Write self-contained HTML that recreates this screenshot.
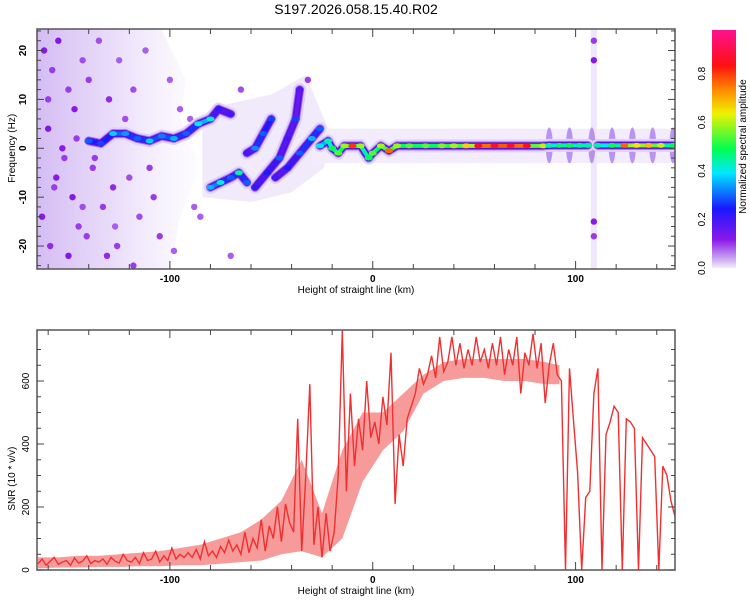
<!DOCTYPE html>
<html><head><meta charset="utf-8">
<style>
html,body{margin:0;padding:0;background:#fff;}
svg{display:block;font-family:"Liberation Sans",sans-serif;}
</style></head>
<body>
<svg id="chart" width="750" height="600" viewBox="0 0 750 600" xmlns="http://www.w3.org/2000/svg">
<text x="356" y="14" font-size="14" text-anchor="middle" fill="#000">S197.2026.058.15.40.R02</text>
<defs>
<clipPath id="clipTop"><rect x="37" y="29" width="638" height="240"/></clipPath>
<clipPath id="clipBot"><rect x="37" y="330" width="638" height="240"/></clipPath>
<linearGradient id="cbar" x1="0" y1="1" x2="0" y2="0">
<stop offset="0" stop-color="#f4eefc"/><stop offset="0.04" stop-color="#c8a4f2"/>
<stop offset="0.12" stop-color="#8a18e8"/><stop offset="0.25" stop-color="#1818ff"/>
<stop offset="0.4" stop-color="#00e8ff"/><stop offset="0.5" stop-color="#00ff50"/>
<stop offset="0.65" stop-color="#f0f000"/><stop offset="0.75" stop-color="#ff8800"/>
<stop offset="0.85" stop-color="#ff1010"/><stop offset="1" stop-color="#ff1090"/>
</linearGradient>
<linearGradient id="hazeGrad" x1="0" y1="0" x2="1" y2="0">
<stop offset="0" stop-color="#cfb4f2" stop-opacity="0.9"/>
<stop offset="0.45" stop-color="#dcc8f6" stop-opacity="0.65"/>
<stop offset="1" stop-color="#ece2fb" stop-opacity="0.1"/>
</linearGradient>
</defs>
<g id="topPlot"></g>
<g id="botPlot"></g>
<g id="colorbar">
<rect x="712" y="30" width="24" height="238" fill="url(#cbar)"/>
</g>
</svg>
<script>
// ---- spectrogram data ----
const ridgeKm  = [-140,-134,-128,-122,-116,-110,-104,-98,-92,-86,-80,-76,-70,
                  -80,-75,-70,-66,-62,
                  -62,-58,-54,-50,
                  -58,-52,-46,-42,-38,-36,
                  -48,-42,-36,-30,-26,
                  -26,-22,-20,-17,-14,-10,-6,-2,0,4,8,12,18,26,34,40,46,52,60,68,76,84,
                  87,92,97,102,106,
                  111,118,124,130,136,142,148];
const ridgeHz  = [1.5,1,3,3,2,1.5,2.5,2,3,5,6,8,7,
                  -8,-7,-6,-5,-7,
                  -1,0,3,6,
                  -8,-5,-2,2,6,12,
                  -6,-4,-1,2,4,
                  0.5,1.5,0,-1,0.5,0.5,0.5,-2,-1,0.5,-0.5,0.5,0.5,0.5,0.5,0.5,0.5,0.5,0.5,0.5,0.5,0.5,
                  0.6,0.6,0.6,0.6,0.6,
                  0.6,0.6,0.6,0.6,0.6,0.6,0.6];
const ridgeAmp = [0.3,0.28,0.38,0.34,0.3,0.38,0.32,0.36,0.3,0.4,0.42,0.22,0.2,
                  0.36,0.42,0.3,0.45,0.3,
                  0.2,0.33,0.3,0.28,
                  0.22,0.24,0.3,0.2,0.28,0.18,
                  0.2,0.24,0.3,0.36,0.3,
                  0.4,0.45,0.5,0.55,0.6,0.82,0.6,0.5,0.55,0.6,0.78,0.6,0.55,0.55,0.58,0.6,0.68,0.86,0.88,0.88,0.86,0.62,
                  0.45,0.48,0.5,0.46,0.45,
                  0.45,0.5,0.78,0.66,0.7,0.62,0.5];
const ridgeSeg = [0,0,0,0,0,0,0,0,0,0,0,0,0,
                  1,1,1,1,1,
                  2,2,2,2,
                  3,3,3,3,3,3,
                  4,4,4,4,4,
                  5,5,5,5,5,5,5,5,5,5,5,5,5,5,5,5,5,5,5,5,5,5,
                  5,5,5,5,5,
                  6,6,6,6,6,6,6];
const noiseKm  = [-162,-158,-155,-150,-147,-143,-160,-152,-140,-135,-130,-125,-156,-148,-138,-128,-118,-112,-163,-145,-133,-120,-108,-100,-95,-159,-150,-141,-126,-115,-105,-88,-153,-137,-122,-110,-160,-146,-131,-118,-98,-90,-157,-143,-127,-85,-70,-65,-35,-32,109,109,109,109];
const noiseHz  = [20,16,22,12,8,18,4,-2,14,22,10,18,-6,-10,-4,-8,12,20,-14,-16,-12,-6,-10,14,8,-20,-22,-18,-20,-14,-18,-12,0,-2,6,-4,10,2,-22,-24,-21,6,-8,-12,-16,-14,-22,12,10,14,22,18,-15,-18];
const noiseAmp = [0.12,0.1,0.13,0.1,0.12,0.09,0.13,0.1,0.1,0.09,0.11,0.08,0.12,0.13,0.1,0.11,0.09,0.08,0.12,0.1,0.1,0.09,0.1,0.08,0.08,0.11,0.13,0.1,0.1,0.09,0.1,0.08,0.12,0.1,0.09,0.1,0.1,0.1,0.11,0.1,0.08,0.08,0.1,0.09,0.08,0.08,0.08,0.09,0.12,0.1,0.1,0.12,0.12,0.1];
const spikeKm  = [87,97,108,118,128,138,148];
const xTicks = [-100,0,100];
const yTicksTop = [-20,-10,0,10,20];
const cbarTicks = [0.0,0.2,0.4,0.6,0.8];
// ---- SNR data (km sampled every 2 from -165) ----
const snrStart = -165, snrStep = 2;
const snrValues = [20,35,15,28,40,18,25,30,15,38,22,28,45,20,30,25,35,18,40,28,22,50,30,
 25,40,20,55,30,35,60,25,45,30,70,35,50,40,55,
 40,65,35,90,45,60,40,75,55,95,
 60,80,50,120,55,100,70,160,60,140,
 100,200,90,210,150,
 120,480,60,300,590,
 80,200,40,180,60,
 120,300,760,
 250,560,330,480,380,600,420,
 470,400,550,460,690,210,430,330,480,520,
 560,640,590,620,680,610,740,630,660,740,
 650,720,640,700,650,740,660,700,640,720,
 650,740,620,700,650,740,560,690,650,750,
 640,720,530,650,720,
 620,600,0,640,470,310,0,230,250,560,640,0,430,470,520,500,0,480,470,450,0,420,400,380,360,0,330,300,220,170];
// noise envelope of SNR (low / high) at coarse km positions
const bandKm = [-165,-155,-145,-135,-125,-115,-105,-95,-85,-75,-65,-55,-45,-35,-25,-15,-5,5,15,25,35,45,55,65,75,85,92];
const bandLo = [5,8,8,10,10,12,12,15,15,20,25,30,50,60,40,100,280,380,440,560,600,610,610,600,600,590,590];
const bandHi = [40,40,45,45,50,55,60,70,80,100,120,160,220,350,180,380,500,500,560,620,660,670,670,670,670,660,650];
const yTicksBot = [0,200,400,600];

const NS="http://www.w3.org/2000/svg";
function mk(tag,attrs,parent){const e=document.createElementNS(NS,tag);for(const k in attrs)e.setAttribute(k,attrs[k]);parent.appendChild(e);return e;}
const X0=37,X1=675,KM0=-165.5,KM1=149;
const xs=k=>X0+(k-KM0)/(KM1-KM0)*(X1-X0);
const TY0=29,TY1=269,HZ0=-24.7,HZ1=24.4;
const yt=h=>TY1-(h-HZ0)/(HZ1-HZ0)*(TY1-TY0);
const BY0=330,BY1=570,S1=762;
const yb=v=>BY1-v/S1*(BY1-BY0);
const stops=[[0,[244,238,252]],[0.04,[200,164,242]],[0.12,[138,24,232]],[0.25,[24,24,255]],[0.4,[0,232,255]],[0.5,[0,255,80]],[0.65,[240,240,0]],[0.75,[255,136,0]],[0.85,[255,16,16]],[1,[255,16,144]]];
function cmap(a){for(let i=1;i<stops.length;i++){if(a<=stops[i][0]){const t=(a-stops[i-1][0])/(stops[i][0]-stops[i-1][0]);const c=stops[i-1][1].map((v,j)=>Math.round(v+(stops[i][1][j]-v)*t));return `rgb(${c})`;}}return 'rgb(255,16,144)';}

// ---- top panel ----
const topPanel=document.getElementById('topPlot');
const tg=mk('g',{'clip-path':'url(#clipTop)'},topPanel);
const haze=mk('path',{d:`M${xs(-166)},${yt(25)} L${xs(-105)},${yt(25)} L${xs(-92)},${yt(14)} L${xs(-95)},${yt(6)} L${xs(-85)},${yt(-4)} L${xs(-95)},${yt(-14)} L${xs(-100)},${yt(-25)} L${xs(-166)},${yt(-25)} Z`,fill:'url(#hazeGrad)'},tg);


const haze2=mk('path',{d:`M${xs(-84)},${yt(-10)} L${xs(-60)},${yt(-11)} L${xs(-40)},${yt(-9)} L${xs(-24)},${yt(-4)} L${xs(-22)},${yt(4)} L${xs(-33)},${yt(15)} L${xs(-50)},${yt(11)} L${xs(-72)},${yt(9)} L${xs(-84)},${yt(5)} Z`,fill:'#e8dcf9',opacity:'0.6'},tg);


const haze3=mk('rect',{x:xs(-30),y:yt(4),width:xs(149)-xs(-30),height:yt(-3)-yt(4),fill:'#f2ecfc'},tg);


const stripe=mk('rect',{x:xs(107.5),y:TY0,width:xs(110.5)-xs(107.5),height:TY1-TY0,fill:'#efe7fb'},tg);


for(let i=0;i<noiseKm.length;i++){
  const d=mk('circle',{cx:xs(noiseKm[i]),cy:yt(noiseHz[i]),r:3.2,fill:cmap(noiseAmp[i])},tg);
  
  
}
for(let i=0;i<spikeKm.length;i++){
  const s=mk('ellipse',{cx:xs(spikeKm[i]),cy:yt(0.6),rx:3.5,ry:18,fill:'#8a4ae8',opacity:'0.55'},tg);
  
  
}
const layers=[[13,'#e2d2f8'],[9,'#a478ee'],[7,'#5a10e0']];
layers.forEach(([w,c])=>{
  for(let i=1;i<ridgeKm.length;i++){ if(ridgeSeg[i]!==ridgeSeg[i-1])continue;
    const l=mk('line',{x1:xs(ridgeKm[i-1]),y1:yt(ridgeHz[i-1]),x2:xs(ridgeKm[i]),y2:yt(ridgeHz[i]),stroke:c,'stroke-width':w,'stroke-linecap':'round'},tg);
    
    
  }
});
for(let i=1;i<ridgeKm.length;i++){ if(ridgeSeg[i]!==ridgeSeg[i-1])continue;
  const a=Math.min(ridgeAmp[i-1],ridgeAmp[i]);
  const l=mk('line',{x1:xs(ridgeKm[i-1]),y1:yt(ridgeHz[i-1]),x2:xs(ridgeKm[i]),y2:yt(ridgeHz[i]),stroke:cmap(a*0.9),'stroke-width':4,'stroke-linecap':'round'},tg);
  
  
}
for(let i=0;i<ridgeKm.length;i++){
  const e=mk('ellipse',{cx:xs(ridgeKm[i]),cy:yt(ridgeHz[i]),rx:4,ry:2.5,fill:cmap(ridgeAmp[i])},tg);
  
  
}
const fTop=mk('rect',{x:X0,y:TY0,width:X1-X0,height:TY1-TY0,fill:'none',stroke:'#555','stroke-width':1.5},topPanel);


function xAxis(parent,yBase,yTop,name){
  for(let k=-160;k<=140;k+=20){
    const big=xTicks.includes(k);
    mk('line',{x1:xs(k),y1:yBase,x2:xs(k),y2:yBase-(big?8:5),stroke:'#444'},parent);
    mk('line',{x1:xs(k),y1:yTop,x2:xs(k),y2:yTop+(big?8:5),stroke:'#444'},parent);
  }
  xTicks.forEach(k=>{const t=mk('text',{x:xs(k),y:yBase+13,'font-size':10,'font-weight':'bold','text-anchor':'middle'},parent);t.textContent=k;
    
    });
  const t=mk('text',{x:356,y:yBase+24,'font-size':10,'text-anchor':'middle'},parent);t.textContent='Height of straight line (km)';
  
  
}
xAxis(topPanel,TY1,TY0,'top');
for(let h=-24;h<=24;h+=2){mk('line',{x1:X0,y1:yt(h),x2:X0+(h%10===0?7:4),y2:yt(h),stroke:'#444'},topPanel);mk('line',{x1:X1,y1:yt(h),x2:X1-(h%10===0?7:4),y2:yt(h),stroke:'#444'},topPanel);}
yTicksTop.forEach(h=>{const t=mk('text',{transform:`translate(26,${yt(h)}) rotate(-90)`,'font-size':10,'font-weight':'bold','text-anchor':'middle'},topPanel);t.textContent=h;
  
  });
const yt1=mk('text',{transform:`translate(15,${yt(0)}) rotate(-90)`,'font-size':10,'text-anchor':'middle'},topPanel);yt1.textContent='Frequency (Hz)';



// colorbar ticks
const cb=document.getElementById('colorbar');
const cby=v=>268-v/0.98*238;
cbarTicks.forEach(v=>{const t=mk('text',{transform:`translate(705,${cby(v)}) rotate(-90)`,'font-size':10,'text-anchor':'middle'},cb);t.textContent=v.toFixed(1);
  
  });
const cbt=mk('text',{transform:`translate(746,${cby(0.5)}) rotate(-90)`,'font-size':10,'text-anchor':'middle'},cb);cbt.textContent='Normalized spectral amplitude';



// ---- bottom panel ----
const bot=document.getElementById('botPlot');
const bg=mk('g',{'clip-path':'url(#clipBot)'},bot);
const bandPts=bandKm.map((k,i)=>`${xs(k).toFixed(1)},${yb(bandHi[i]).toFixed(1)}`).concat(bandKm.map((k,i)=>`${xs(k).toFixed(1)},${yb(bandLo[i]).toFixed(1)}`).reverse()).join(' ');
const band=mk('polygon',{points:bandPts,fill:'#f03535',opacity:'0.5'},bg);


let pts=snrValues.map((v,i)=>`${xs(snrStart+i*snrStep).toFixed(1)},${yb(v).toFixed(1)}`).join(' ');
const pl=mk('polyline',{points:pts,fill:'none',stroke:'#f03030','stroke-width':1.4,'stroke-linejoin':'miter'},bg);


const fBot=mk('rect',{x:X0,y:BY0,width:X1-X0,height:BY1-BY0,fill:'none',stroke:'#555','stroke-width':1.5},bot);


xAxis(bot,BY1,BY0,'bottom');
for(let v=0;v<=700;v+=50){const big=v%200===0;mk('line',{x1:X0,y1:yb(v),x2:X0+(big?7:4),y2:yb(v),stroke:'#444'},bot);mk('line',{x1:X1,y1:yb(v),x2:X1-(big?7:4),y2:yb(v),stroke:'#444'},bot);}
yTicksBot.forEach(v=>{const t=mk('text',{transform:`translate(29,${yb(v)}) rotate(-90)`,'font-size':10,'text-anchor':'middle'},bot);t.textContent=v;
  
  });
const yt2=mk('text',{transform:`translate(15,${yb(290)}) rotate(-90)`,'font-size':10,'text-anchor':'middle'},bot);yt2.textContent='SNR (10 * v/v)';


</script>
</body></html>
